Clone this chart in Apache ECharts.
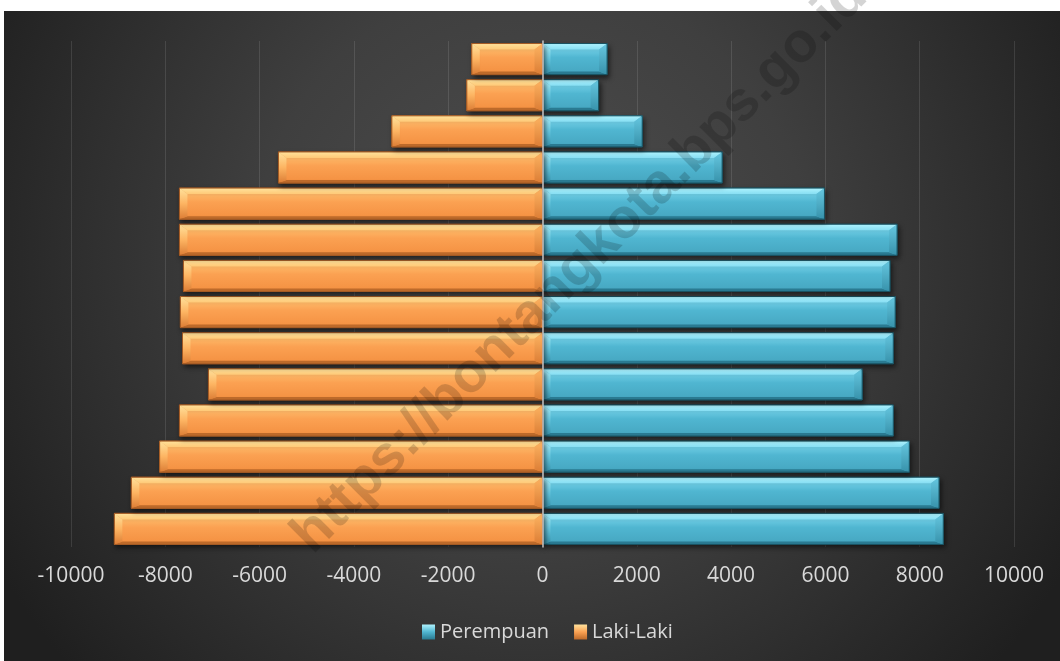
<!DOCTYPE html>
<html>
<head>
<meta charset="utf-8">
<script src="https://cdn.jsdelivr.net/npm/echarts@6/dist/echarts.min.js"></script>
<style>
  html, body { margin: 0; padding: 0; background: #ffffff; }
  #chart { width: 1060px; height: 661px; }
</style>
</head>
<body>
<div id="chart"></div>
<script>
// Age groups, bottom (youngest) to top (oldest)
const categories = ['0-4', '5-9', '10-14', '15-19', '20-24', '25-29', '30-34',
                    '35-39', '40-44', '45-49', '50-54', '55-59', '60-64', '65+'];
// Female population (right side)
const perempuan = [8500, 8410, 7780, 7440, 6780, 7440, 7480, 7370, 7520, 5980, 3810, 2115, 1190, 1370];
// Male population, plotted to the left of zero
const lakiLaki = [-9080, -8720, -8120, -7700, -7085, -7635, -7680, -7615, -7700, -7700, -5600, -3195, -1605, -1500];
// Value axis ticks
const axisMin = -10000;
const axisMax = 10000;
const axisStep = 2000;

const G = echarts.graphic;

const orangePal = {
  base: '#f79646',
  face: ['#ffc977', '#fba152', '#f38f40'],
  top: '#ffe29c', bottom: '#bd6a2a', left: '#fdb462', right: '#dc7d35', edge: '#a35a24'
};
const bluePal = {
  base: '#4bacc6',
  face: ['#86def3', '#50b6d1', '#45a5bf'],
  top: '#aef2fd', bottom: '#2a7a91', left: '#66c7e0', right: '#3792ab', edge: '#1a5261'
};

// Beveled horizontal bar drawn from the value/category coordinates
function bevelBar(pal) {
  return function (params, api) {
    const val = api.value(0);
    const cat = api.value(1);
    const a = api.coord([0, cat]);
    const b = api.coord([val, cat]);
    const band = api.size([0, 1])[1];
    const h = band * 0.86;
    const x0 = Math.min(a[0], b[0]);
    const x1 = Math.max(a[0], b[0]);
    const yT = a[1] - h / 2;
    const yB = a[1] + h / 2;
    const bv = Math.min(8, (x1 - x0) / 2, h / 2);
    const tb = 6;  // top facet depth
    const bb = 3;  // bottom facet depth
    return {
      type: 'group',
      children: [
        {
          type: 'rect',
          shape: { x: x0, y: yT, width: x1 - x0, height: h },
          style: {
            fill: new G.LinearGradient(0, 0, 0, 1, [
              { offset: 0, color: pal.face[0] },
              { offset: 0.45, color: pal.face[1] },
              { offset: 1, color: pal.face[2] }
            ]),
            stroke: pal.edge, lineWidth: 1,
            shadowColor: 'rgba(0,0,0,0.6)', shadowBlur: 5, shadowOffsetX: 2, shadowOffsetY: 3
          }
        },
        {
          type: 'polygon',
          shape: { points: [[x0, yT], [x1, yT], [x1 - bv, yT + tb], [x0 + bv, yT + tb]] },
          style: {
            fill: new G.LinearGradient(0, 0, 0, 1, [
              { offset: 0, color: pal.top },
              { offset: 1, color: pal.face[0] }
            ])
          }
        },
        {
          type: 'polygon',
          shape: { points: [[x0, yB], [x1, yB], [x1 - bv, yB - bb], [x0 + bv, yB - bb]] },
          style: { fill: pal.bottom }
        },
        {
          type: 'polygon',
          shape: { points: [[x0, yT], [x0 + bv, yT + tb], [x0 + bv, yB - bb], [x0, yB]] },
          style: {
            fill: new G.LinearGradient(0, 0, 0, 1, [
              { offset: 0, color: pal.top },
              { offset: 0.5, color: pal.left },
              { offset: 1, color: pal.right }
            ])
          }
        },
        {
          type: 'polygon',
          shape: { points: [[x1, yT], [x1 - bv, yT + tb], [x1 - bv, yB - bb], [x1, yB]] },
          style: {
            fill: new G.LinearGradient(0, 0, 0, 1, [
              { offset: 0, color: pal.left },
              { offset: 1, color: pal.right }
            ])
          }
        },
        {
          type: 'rect',
          shape: { x: x0, y: yT, width: x1 - x0, height: h },
          style: { fill: 'none', stroke: pal.edge, lineWidth: 1 }
        }
      ]
    };
  };
}

function pairs(values) {
  return values.map((v, i) => [v, i]);
}

function legendIcon(pal) {
  return new G.LinearGradient(0, 0, 0, 1, [
    { offset: 0, color: pal.top },
    { offset: 0.5, color: pal.face[1] },
    { offset: 1, color: pal.bottom }
  ]);
}

const chart = echarts.init(document.getElementById('chart'), null, { renderer: 'canvas' });

chart.setOption({
  backgroundColor: '#ffffff',
  animation: false,
  textStyle: { fontFamily: '"Open Sans", sans-serif' },
  graphic: [
    {
      type: 'rect',
      z: -10,
      silent: true,
      shape: { x: 4, y: 11, width: 1056, height: 650 },
      style: {
        fill: new G.RadialGradient(0.5, 0.38, 0.95, [
          { offset: 0, color: '#4e4e4e' },
          { offset: 0.45, color: '#3f3f3f' },
          { offset: 1, color: '#1f1f1f' }
        ])
      }
    },
    {
      type: 'text',
      z: 100,
      silent: true,
      x: 580, y: 266,
      rotation: Math.PI / 4,
      style: {
        text: 'https://bontangkota.bps.go.id',
        font: 'bold 56px "Liberation Sans", Arial, sans-serif',
        fill: 'rgba(0,0,0,0.17)',
        align: 'center',
        verticalAlign: 'middle'
      }
    }
  ],
  grid: { left: 71, right: 46, top: 41, bottom: 114, containLabel: false },
  xAxis: {
    type: 'value',
    min: axisMin, max: axisMax, interval: axisStep,
    axisLine: { show: false },
    axisTick: { show: false },
    axisLabel: { color: '#d9d9d9', fontSize: 21, margin: 19, formatter: (v) => String(v) },
    splitLine: { show: true, lineStyle: { color: 'rgba(255,255,255,0.11)', width: 1 } }
  },
  yAxis: {
    type: 'category',
    data: categories,
    z: 5,
    axisLine: { show: true, onZero: true, lineStyle: { color: '#c4c4c4', width: 1.5 } },
    axisTick: { show: false },
    axisLabel: { show: false },
    splitLine: { show: false }
  },
  legend: {
    left: 417, top: 617,
    icon: 'rect',
    itemWidth: 13, itemHeight: 15, itemGap: 25,
    textStyle: { color: '#d9d9d9', fontSize: 20 },
    data: [
      { name: 'Perempuan', itemStyle: { color: legendIcon(bluePal) } },
      { name: 'Laki-Laki', itemStyle: { color: legendIcon(orangePal) } }
    ]
  },
  series: [
    {
      name: 'Perempuan',
      type: 'custom',
      renderItem: bevelBar(bluePal),
      itemStyle: { color: bluePal.base },
      encode: { x: 0, y: 1 },
      data: pairs(perempuan)
    },
    {
      name: 'Laki-Laki',
      type: 'custom',
      renderItem: bevelBar(orangePal),
      itemStyle: { color: orangePal.base },
      encode: { x: 0, y: 1 },
      data: pairs(lakiLaki)
    }
  ]
});
</script>
</body>
</html>
